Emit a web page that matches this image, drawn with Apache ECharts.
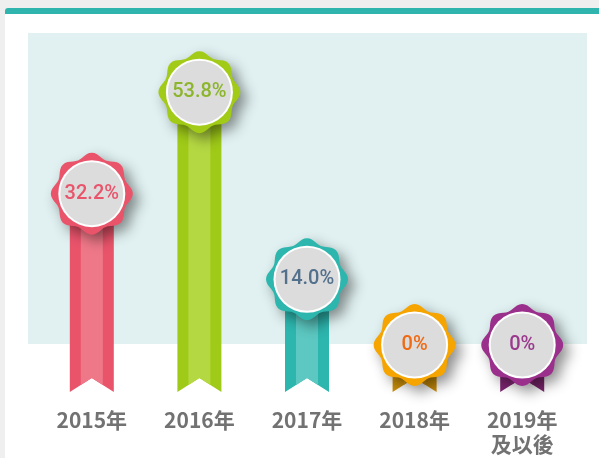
<!DOCTYPE html>
<html>
<head>
<meta charset="utf-8">
<script src="https://cdn.jsdelivr.net/npm/echarts@6/dist/echarts.min.js"></script>
<style>
  html, body { margin: 0; padding: 0; background: #efefef; overflow: hidden; }
  .card {
    position: absolute; left: 5px; top: 8px; width: 620px; height: 470px;
    background: #fff; border-top: 6px solid #2fb5ad; border-radius: 3px 0 0 0;
  }
  #chart { position: absolute; left: 0; top: 0; width: 599px; height: 458px; }
</style>
</head>
<body>
<div class="card"></div>
<div id="chart"></div>
<script>
// 年份
const years = ['2015年', '2016年', '2017年', '2018年', '2019年\n及以後']
// 百分比
const shares = [32.2, 53.8, 14.0, 0, 0]

// 每个奖章的配色：徽章、缎带外侧、缎带内侧、文字
const palette = [
  { badge: '#e9546b', outer: '#e9546b', inner: '#ef7888', text: '#e9546b' },
  { badge: '#a2cb17', outer: '#9fca18', inner: '#b4d842', text: '#8cb52c' },
  { badge: '#2db6ae', outer: '#2db6ae', inner: '#5cc8c1', text: '#53708c' },
  { badge: '#f5a400', outer: '#c98e0a', inner: '#d39816', text: '#ef6a12' },
  { badge: '#9a2f8c', outer: '#7d2670', inner: '#882c7b', text: '#9a3a8d' },
]

const AXIS_MIN = -10

function wavyPoints(cx, cy, r, amp, lobes) {
  const pts = []
  for (let k = 0; k < 96; k++) {
    const t = (k / 96) * Math.PI * 2
    const rr = r + amp * Math.cos(lobes * t)
    pts.push([cx + rr * Math.cos(t), cy + rr * Math.sin(t)])
  }
  return pts
}

function renderItem(params, api) {
  const i = api.value(0)
  const v = api.value(1)
  const top = api.coord([i, v])
  const base = api.coord([i, AXIS_MIN])
  const cx = top[0], cy = top[1], by = base[1]
  const c = palette[i]
  const hw = 22, iw = 11, notch = 14
  const label = v === 0 ? '0%' : v.toFixed(1) + '%'
  return {
    type: 'group',
    children: [
      {
        type: 'polygon',
        shape: { points: [[cx - hw, cy], [cx + hw, cy], [cx + hw, by], [cx, by - notch], [cx - hw, by]] },
        style: { fill: c.outer },
      },
      {
        type: 'polygon',
        shape: { points: [[cx - iw, cy], [cx + iw, cy], [cx + iw, by - notch / 2], [cx, by - notch], [cx - iw, by - notch / 2]] },
        style: { fill: c.inner },
      },
      {
        type: 'polygon',
        shape: { points: wavyPoints(cx, cy, 38.5, 2.5, 8) },
        style: {
          fill: c.badge,
          shadowBlur: 14,
          shadowColor: 'rgba(0, 0, 0, 0.45)',
          shadowOffsetX: 6,
          shadowOffsetY: 6,
        },
      },
      { type: 'circle', shape: { cx: cx, cy: cy, r: 33.5 }, style: { fill: '#ffffff' } },
      { type: 'circle', shape: { cx: cx, cy: cy, r: 31.5 }, style: { fill: '#dcdcdc' } },
      {
        type: 'text',
        x: cx,
        y: cy,
        style: {
          text: label,
          fill: c.text,
          font: '500 20px Roboto',
          align: 'center',
          verticalAlign: 'middle',
        },
      },
    ],
  }
}

const chart = echarts.init(document.getElementById('chart'))
chart.setOption({
  animation: false,
  graphic: [
    {
      type: 'rect',
      z: -10,
      shape: { x: 28, y: 33, width: 559, height: 311 },
      style: { fill: '#e1f1f1' },
    },
  ],
  grid: { left: 38, right: 23, top: 63, bottom: 66 },
  xAxis: {
    type: 'category',
    data: years,
    axisLine: { show: false },
    axisTick: { show: false },
    axisLabel: {
      margin: 16,
      color: '#727272',
      fontSize: 21,
      fontWeight: 'bold',
      lineHeight: 24,
      fontFamily: '"Noto Sans CJK TC", "Noto Sans", sans-serif',
      interval: 0,
    },
  },
  yAxis: {
    type: 'value',
    min: AXIS_MIN,
    max: 60,
    show: false,
    splitLine: { show: false },
  },
  series: [
    {
      type: 'custom',
      renderItem: renderItem,
      data: shares.map((v, i) => [i, v]),
    },
  ],
})
</script>
</body>
</html>
